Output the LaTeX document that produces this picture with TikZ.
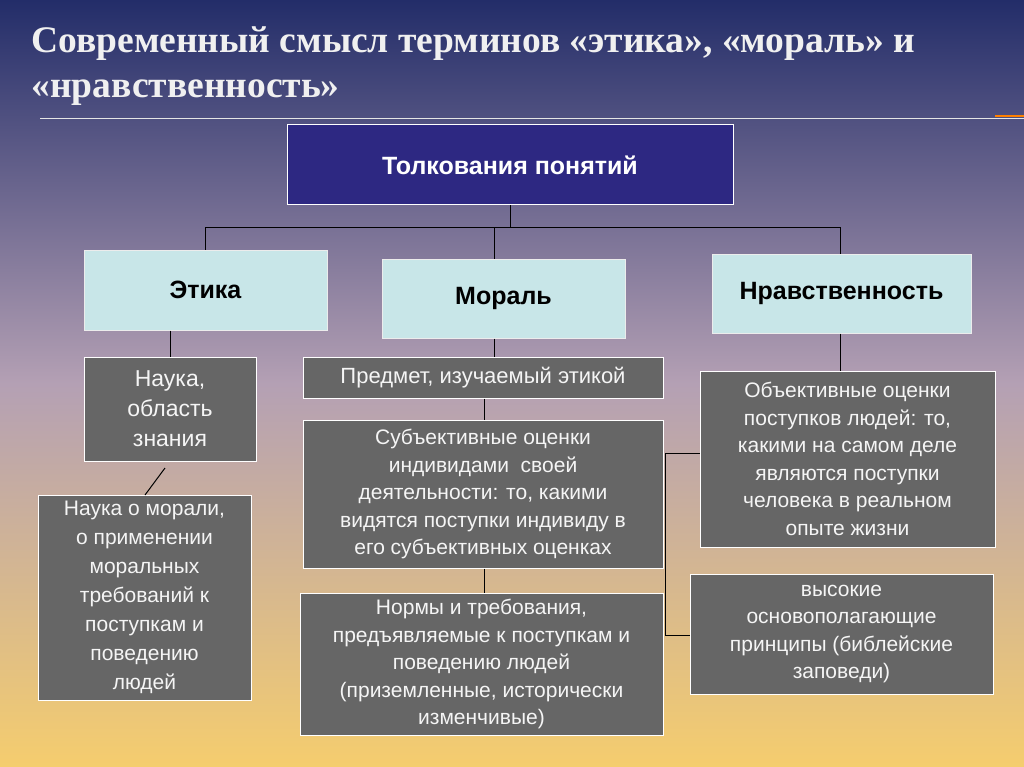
\documentclass[tikz,border=0pt]{standalone}
\usepackage{fontspec}
\setmainfont{Liberation Serif}
\setsansfont{Liberation Sans}
\definecolor{topbg}{RGB}{35,45,105}
\definecolor{midbg}{RGB}{180,160,180}
\definecolor{lowbg}{RGB}{245,205,110}
\definecolor{headfill}{RGB}{45,40,130}
\definecolor{termfill}{RGB}{200,230,232}
\definecolor{notefill}{RGB}{102,102,102}
\tikzset{
  headbox/.style={draw=white, line width=1pt, fill=headfill, text=white,
    font=\sffamily\bfseries\fontsize{25}{28}\selectfont},
  termbox/.style={draw=white!85!gray, line width=1pt, fill=termfill, text=black,
    font=\sffamily\bfseries\fontsize{25}{28}\selectfont},
  notebox/.style={draw=white, line width=1pt, fill=notefill, text=white!92!gray, align=center,
    font=\sffamily\fontsize{22}{28}\selectfont},
  link/.style={draw=black, line width=1pt}
}
\begin{document}
\begin{tikzpicture}[x=1pt,y=-1pt]
  \useasboundingbox (0,0) rectangle (1024,767);
  \shade[top color=topbg, bottom color=lowbg, middle color=midbg] (0,0) rectangle (1024,767);
  \draw[white!80!gray, line width=0.6pt] (40,118) -- (1024,118);
  \draw[orange, line width=1.5pt] (995,116) -- (1024,116);
  \node[anchor=north west, align=left, text=white!88!gray,
    font=\bfseries\fontsize{37.5}{45}\selectfont] (title) at (28,23)
    {Современный смысл терминов «этика», «мораль» и\\«нравственность»};

  % header and terms
  \node[headbox, minimum width=446pt, minimum height=80pt] (head) at (510,165) {Толкования понятий};
  \node[termbox, minimum width=243pt, minimum height=80pt] (ethics) at (205.5,290) {Этика};
  \node[termbox, minimum width=243pt, minimum height=79pt] (moral) at (503.5,298.5) {Мораль};
  \node[termbox, minimum width=259pt, minimum height=79pt] (virtue) at (841.5,293.5) {Нравственность};

  % notes
  \node[notebox, minimum width=172pt, minimum height=104pt, font=\sffamily\fontsize{23}{30}\selectfont] (science) at (170,409) {Наука,\\область\\знания};
  \node[notebox, minimum width=213pt, minimum height=205pt, font=\sffamily\fontsize{21}{29}\selectfont] (aboutmoral) at (144.5,597.5)
    {Наука о морали,\\о применении\\моральных\\требований к\\поступкам и\\поведению\\людей};
  \node[notebox, minimum width=360pt, minimum height=41pt] (subject) at (483,377.5) {Предмет, изучаемый этикой};
  \node[notebox, minimum width=360pt, minimum height=148pt, font=\sffamily\fontsize{21}{27.5}\selectfont] (subjective) at (483,494)
    {Субъективные оценки\\индивидами\ \ своей\\деятельности: то, какими\\видятся поступки индивиду в\\его субъективных оценках};
  \node[notebox, minimum width=363pt, minimum height=142pt, font=\sffamily\fontsize{21}{27.5}\selectfont] (norms) at (481.5,664)
    {Нормы и требования,\\предъявляемые к поступкам и\\поведению людей\\(приземленные, исторически\\изменчивые)};
  \node[notebox, minimum width=295pt, minimum height=176pt, font=\sffamily\fontsize{21}{27.5}\selectfont] (objective) at (847.5,459)
    {Объективные оценки\\поступков людей: то,\\какими на самом деле\\являются поступки\\человека в реальном\\опыте жизни};
  \node[notebox, minimum width=303pt, minimum height=120pt, font=\sffamily\fontsize{21}{27.5}\selectfont] (principles) at (841.5,634)
    {высокие\\основополагающие\\принципы (библейские\\заповеди)};

  % tree
  \coordinate (hub) at (510,228);
  \draw[link] (head.south -| hub) -- (hub);
  \draw[link] (ethics.north -| 205,0) -- (205,228) -- (840,228) -- (virtue.north -| 840,0);
  \draw[link] (494,228) -- (moral.north -| 494,0);
  \draw[link] (ethics.south -| 170,0) -- (science.north);
  \draw[link] (165,468) -- (145,495);
  \draw[link] (moral.south -| 494,0) -- (subject.north -| 494,0);
  \draw[link] (subject.south -| 484,0) -- (subjective.north -| 484,0);
  \draw[link] (subjective.south -| 484,0) -- (norms.north -| 484,0);
  \draw[link] (virtue.south -| 840,0) -- (objective.north -| 840,0);
  \draw[link] (objective.west |- 0,453) -- (665,453) -- (665,635) -- (principles.west |- 0,635);
\end{tikzpicture}
\end{document}
